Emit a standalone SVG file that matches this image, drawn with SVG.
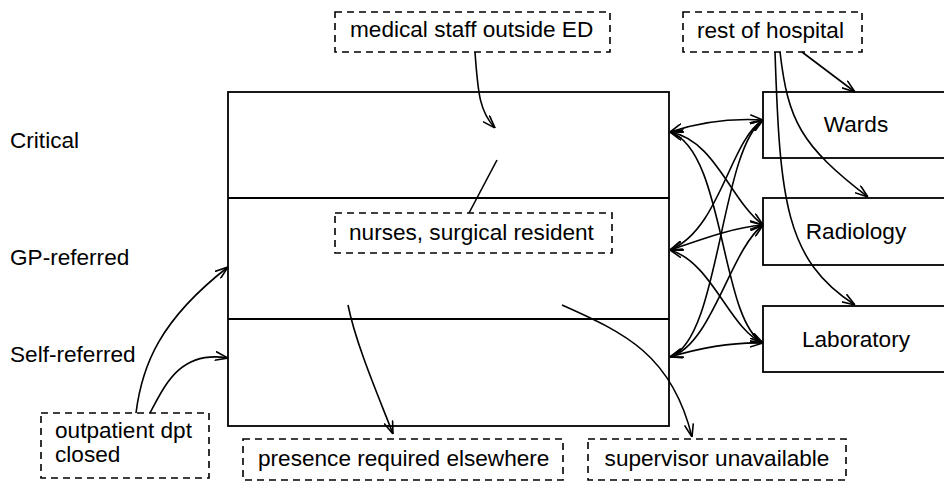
<svg xmlns="http://www.w3.org/2000/svg" width="944" height="482" viewBox="0 0 944 482">
  <style>
    text { font-family: "Liberation Sans", Arial, sans-serif; font-size: 22.6px; fill: #000; }
    .box { fill: none; stroke: #000; stroke-width: 1.8; }
    .note { fill: none; stroke: #000; stroke-width: 1.6; stroke-dasharray: 7 5; }
    .edge { fill: none; stroke: #000; stroke-width: 1.6; }
    .arrow { marker-end: url(#vee); }
    .both { marker-start: url(#vee); marker-end: url(#vee); }
  </style>
  <defs>
    <marker id="vee" viewBox="0 0 13 10" refX="13" refY="5" markerWidth="13" markerHeight="10" markerUnits="userSpaceOnUse" orient="auto-start-reverse">
      <path d="M0,0.5 L13,5 L0,9.5" fill="none" stroke="#000" stroke-width="1.6"/>
    </marker>
  </defs>

  <!-- row labels -->
  <g id="row-labels">
    <text x="10" y="148">Critical</text>
    <text x="10" y="265">GP-referred</text>
    <text x="10" y="362">Self-referred</text>
  </g>

  <!-- emergency department, split into three rows -->
  <g id="ed">
    <rect class="box" x="228" y="92" width="441" height="334"/>
    <line class="box" x1="228" y1="198" x2="669" y2="198"/>
    <line class="box" x1="228" y1="319" x2="669" y2="319"/>
  </g>

  <g id="wards">
    <rect class="box" x="763" y="92" width="186" height="66"/>
    <text x="856" y="132" text-anchor="middle">Wards</text>
  </g>
  <g id="radiology">
    <rect class="box" x="763" y="198" width="186" height="67"/>
    <text x="856" y="239" text-anchor="middle">Radiology</text>
  </g>
  <g id="laboratory">
    <rect class="box" x="763" y="306" width="186" height="66"/>
    <text x="856" y="347" text-anchor="middle">Laboratory</text>
  </g>

  <g id="medical-staff">
    <rect class="note" x="335" y="12" width="275" height="40"/>
    <text x="350" y="37">medical staff outside ED</text>
  </g>
  <g id="rest-of-hospital">
    <rect class="note" x="683" y="12" width="179" height="40"/>
    <text x="697" y="38">rest of hospital</text>
  </g>
  <g id="nurses">
    <rect class="note" x="335" y="213" width="277" height="40"/>
    <text x="349" y="240">nurses, surgical resident</text>
  </g>
  <g id="outpatient">
    <rect class="note" x="41" y="413" width="168" height="65"/>
    <text x="55" y="438">outpatient dpt</text>
    <text x="55" y="462">closed</text>
  </g>
  <g id="presence">
    <rect class="note" x="243" y="439" width="320" height="41"/>
    <text x="258" y="466">presence required elsewhere</text>
  </g>
  <g id="supervisor">
    <rect class="note" x="588" y="439" width="258" height="41"/>
    <text x="717" y="466" text-anchor="middle">supervisor unavailable</text>
  </g>

  <!-- connectors -->
  <g id="connectors">
    <path class="edge arrow" d="M475,52 C478,95 480,112 495,128"/>
    <path class="edge" d="M469,213 L497,160"/>
    <path class="edge arrow" d="M348,305 C356,345 380,400 393,434"/>
    <path class="edge arrow" d="M562,305 C625,333 672,355 692,437"/>
    <path class="edge arrow" d="M136,413 C142,365 160,320 228,267"/>
    <path class="edge arrow" d="M150,413 C165,385 180,350 228,358"/>

    <path class="edge arrow" d="M802,52 L855,92"/>
    <path class="edge arrow" d="M780,52 C788,120 800,145 868,197"/>
    <path class="edge arrow" d="M775,52 C780,200 785,260 855,305"/>

    <path class="edge both" d="M670,132 C700,122 730,118 763,120"/>
    <path class="edge both" d="M670,132 C715,140 730,200 763,225"/>
    <path class="edge both" d="M670,132 C725,150 720,320 763,343"/>
    <path class="edge both" d="M670,250 C720,230 730,140 763,120"/>
    <path class="edge both" d="M670,250 C700,240 730,228 763,225"/>
    <path class="edge both" d="M670,250 C712,262 730,330 763,343"/>
    <path class="edge both" d="M670,357 C720,340 720,150 763,120"/>
    <path class="edge both" d="M670,357 C712,345 730,250 763,225"/>
    <path class="edge both" d="M670,357 C700,348 730,342 763,343"/>
  </g>
</svg>
